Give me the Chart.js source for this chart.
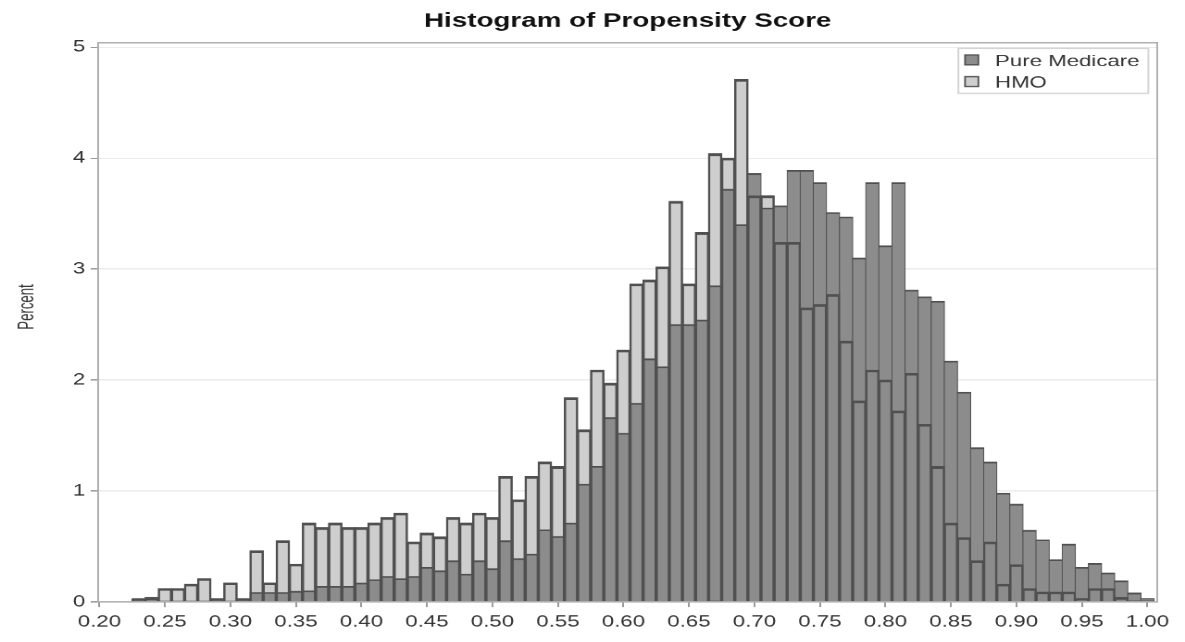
<!DOCTYPE html>
<html>
<head>
<meta charset="utf-8">
<script src="https://cdn.jsdelivr.net/npm/chart.js@4/dist/chart.umd.min.js"></script>
<style>
  html, body { margin: 0; padding: 0; background: #ffffff; }
  #chart { display: block; width: 1185px; height: 642px; }
</style>
</head>
<body>
<canvas id="chart" width="640" height="480" style="width:1185px;height:642px"></canvas>
<script>
// Histogram bin midpoints (propensity score)
const binMidpoints = [
  0.23, 0.24, 0.25, 0.26, 0.27, 0.28, 0.29, 0.30, 0.31, 0.32,
  0.33, 0.34, 0.35, 0.36, 0.37, 0.38, 0.39, 0.40, 0.41, 0.42,
  0.43, 0.44, 0.45, 0.46, 0.47, 0.48, 0.49, 0.50, 0.51, 0.52,
  0.53, 0.54, 0.55, 0.56, 0.57, 0.58, 0.59, 0.60, 0.61, 0.62,
  0.63, 0.64, 0.65, 0.66, 0.67, 0.68, 0.69, 0.70, 0.71, 0.72,
  0.73, 0.74, 0.75, 0.76, 0.77, 0.78, 0.79, 0.80, 0.81, 0.82,
  0.83, 0.84, 0.85, 0.86, 0.87, 0.88, 0.89, 0.90, 0.91, 0.92,
  0.93, 0.94, 0.95, 0.96, 0.97, 0.98, 0.99, 1.00
];

// Percent of each group falling in each bin
const pureMedicare = [
  0.03, 0.02, 0.01, 0.01, 0.01, 0.01, 0.03, 0.01, 0.03, 0.085,
  0.085, 0.085, 0.095, 0.10, 0.14, 0.14, 0.14, 0.17, 0.20, 0.23,
  0.21, 0.23, 0.31, 0.28, 0.37, 0.25, 0.37, 0.30, 0.55, 0.39,
  0.43, 0.65, 0.59, 0.71, 1.06, 1.22, 1.66, 1.52, 1.79, 2.19,
  2.12, 2.50, 2.50, 2.54, 2.85, 3.72, 3.40, 3.86, 3.55, 3.57,
  3.89, 3.89, 3.78, 3.51, 3.47, 3.10, 3.78, 3.21, 3.78, 2.81,
  2.75, 2.71, 2.17, 1.89, 1.39, 1.26, 0.98, 0.88, 0.645, 0.56,
  0.38, 0.52, 0.31, 0.345, 0.26, 0.19, 0.08, 0.03
];

const hmo = [
  0.02, 0.04, 0.12, 0.12, 0.16, 0.21, 0.02, 0.17, 0.02, 0.46,
  0.17, 0.55, 0.34, 0.71, 0.67, 0.71, 0.67, 0.67, 0.71, 0.76,
  0.80, 0.54, 0.62, 0.585, 0.76, 0.71, 0.80, 0.76, 1.13, 0.92,
  1.13, 1.26, 1.22, 1.84, 1.55, 2.09, 1.97, 2.27, 2.865, 2.90,
  3.02, 3.61, 2.865, 3.33, 4.04, 4.00, 4.71, 3.66, 3.66, 3.24,
  3.24, 2.65, 2.68, 2.77, 2.35, 1.81, 2.09, 2.00, 1.72, 2.06,
  1.60, 1.22, 0.71, 0.58, 0.37, 0.54, 0.16, 0.335, 0.12, 0.09,
  0.09, 0.09, 0.03, 0.12, 0.12, 0.04, 0.01, 0.01
];

// Axis tick values
const xTickValues = [0.20, 0.25, 0.30, 0.35, 0.40, 0.45, 0.50, 0.55, 0.60,
                     0.65, 0.70, 0.75, 0.80, 0.85, 0.90, 0.95, 1.00];
const yTickValues = [0, 1, 2, 3, 4, 5];

const seriesNames = ['Pure Medicare', 'HMO'];
const chartTitle = 'Histogram of Propensity Score';
const yAxisTitle = 'Percent';

// Styling
const FONT = "'Liberation Sans', Arial, Helvetica, sans-serif";
const DARK_FILL = '#8c8c8c';
const LIGHT_FILL = '#cecece';
const EDGE = '#505050';
const FRAME = '#b0b0b0';
const GRID = '#ececec';
const TEXT = '#333333';
const barEdge = { top: 1.3, left: 0.55, right: 0.55, bottom: 0 };

const toPoints = vals => vals.map((v, i) => ({ x: binMidpoints[i], y: v }));

// Title, rotated y label, plot frame and in-plot legend
const decorations = {
  id: 'decorations',
  afterDatasetsDraw(chart) {
    const { ctx, chartArea: a } = chart;
    ctx.save();
    ctx.strokeStyle = FRAME;
    ctx.lineWidth = 1;
    ctx.strokeRect(a.left, a.top, a.right - a.left, a.bottom - a.top);
    ctx.restore();
  },
  afterDraw(chart) {
    const { ctx, chartArea: a } = chart;
    ctx.save();
    // chart title, centred over the plot area
    ctx.fillStyle = '#111111';
    ctx.font = `bold 15px ${FONT}`;
    ctx.textAlign = 'center';
    ctx.textBaseline = 'alphabetic';
    ctx.fillText(chartTitle, (a.left + a.right) / 2, 20);

    // y axis title (narrow face)
    ctx.save();
    ctx.translate(14.6, 229.5);
    ctx.rotate(-Math.PI / 2);
    ctx.scale(0.82, 1);
    ctx.font = `12px ${FONT}`;
    ctx.fillStyle = TEXT;
    ctx.textAlign = 'center';
    ctx.textBaseline = 'middle';
    ctx.fillText(yAxisTitle, 0, 0);
    ctx.restore();

    // legend box
    const bx = 517.6, by = 36.1, bw = 102.6, bh = 33.7;
    ctx.fillStyle = '#ffffff';
    ctx.fillRect(bx, by, bw, bh);
    ctx.strokeStyle = '#d4d4d4';
    ctx.lineWidth = 1;
    ctx.strokeRect(bx, by, bw, bh);
    const entries = [chart.data.datasets[1], chart.data.datasets[2]];
    ctx.font = `12px ${FONT}`;
    ctx.textAlign = 'left';
    ctx.textBaseline = 'alphabetic';
    entries.forEach((ds, i) => {
      const sy = 41.1 + i * 16.2;
      ctx.fillStyle = ds.backgroundColor;
      ctx.fillRect(521.2, sy, 7.2, 7.4);
      ctx.strokeStyle = EDGE;
      ctx.lineWidth = 0.9;
      ctx.strokeRect(521.2, sy, 7.2, 7.4);
      ctx.fillStyle = TEXT;
      ctx.fillText(ds.label, 537.4, 49.3 + i * 16.0);
    });
    ctx.restore();
  }
};

new Chart(document.getElementById('chart'), {
  type: 'bar',
  data: {
    datasets: [
      {
        // HMO outline drawn over everything so its top edge shows through
        label: seriesNames[1] + ' outline',
        data: toPoints(hmo),
        backgroundColor: 'rgba(0,0,0,0)',
        borderColor: EDGE,
        borderWidth: barEdge,
        borderSkipped: false,
        grouped: false,
        barPercentage: 1,
        categoryPercentage: 1
      },
      {
        label: seriesNames[0],
        data: toPoints(pureMedicare),
        backgroundColor: DARK_FILL,
        borderColor: EDGE,
        borderWidth: barEdge,
        borderSkipped: false,
        grouped: false,
        barPercentage: 1,
        categoryPercentage: 1
      },
      {
        label: seriesNames[1],
        data: toPoints(hmo),
        backgroundColor: LIGHT_FILL,
        borderColor: EDGE,
        borderWidth: barEdge,
        borderSkipped: false,
        grouped: false,
        barPercentage: 1,
        categoryPercentage: 1
      }
    ]
  },
  options: {
    responsive: false,
    devicePixelRatio: 2,
    animation: false,
    layout: { padding: { top: 32, right: 15, left: 0, bottom: 0 } },
    plugins: {
      legend: { display: false },
      title: { display: false },
      tooltip: { enabled: false }
    },
    scales: {
      x: {
        type: 'linear',
        offset: false,
        min: 0.199,
        max: 1.0075,
        afterFit(s) { s.height = 30; },
        afterBuildTicks(s) { s.ticks = xTickValues.map(v => ({ value: v })); },
        border: { display: false },
        grid: { offset: false, drawOnChartArea: false, drawTicks: true, tickLength: 4, tickColor: '#9a9a9a', tickWidth: 1 },
        ticks: {
          padding: 4,
          color: TEXT,
          font: { family: FONT, size: 12 },
          maxRotation: 0,
          autoSkip: false,
          callback: v => v.toFixed(2)
        }
      },
      y: {
        min: 0,
        max: 5.04,
        afterFit(s) { s.width = 53; },
        afterBuildTicks(s) { s.ticks = yTickValues.map(v => ({ value: v })); },
        border: { display: false },
        grid: { color: GRID, lineWidth: 1, drawTicks: true, tickLength: 4, tickColor: '#9a9a9a' },
        ticks: {
          padding: 3,
          color: TEXT,
          font: { family: FONT, size: 12 },
          callback: v => String(v)
        }
      }
    }
  },
  plugins: [decorations]
});
</script>
</body>
</html>
